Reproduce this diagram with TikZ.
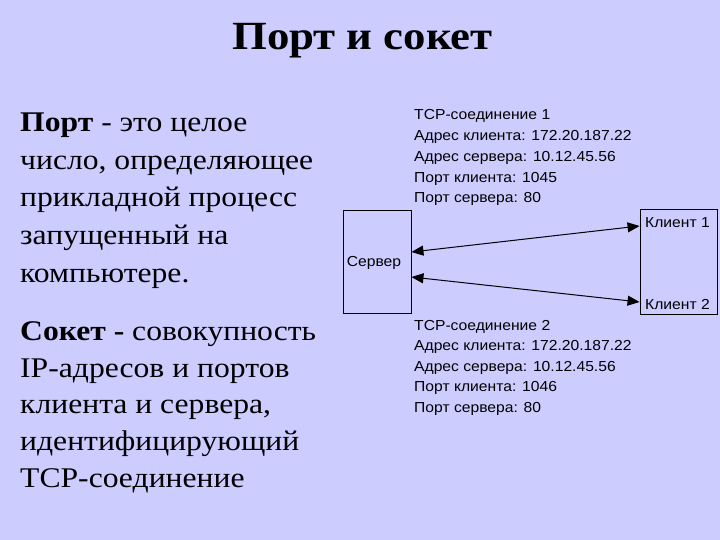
\documentclass[tikz,border=0pt]{standalone}
\usepackage{fontspec}
\setmainfont{Liberation Serif}[FakeStretch=1.11]
\newfontfamily\titlef{Liberation Serif}[FakeStretch=1.12]
\newfontfamily\arialf{Liberation Sans}[FakeStretch=1.08]
\usetikzlibrary{arrows.meta}
\definecolor{bgc}{HTML}{CCCCFF}
\tikzset{
  lefttext/.style={anchor=base west, inner sep=0pt, font=\fontsize{28.5}{30}\selectfont},
  difftext/.style={anchor=base west, inner sep=0pt, font=\arialf\fontsize{14.5}{16}\selectfont},
  box/.style={draw=black, line width=0.9pt, minimum width=#1, inner sep=0pt},
  conn/.style={line width=1pt, {Triangle[length=12pt,width=10pt]}-{Triangle[length=12pt,width=10pt]}}
}
\begin{document}
\begin{tikzpicture}[x=1pt,y=-1pt]
\fill[bgc] (0,0) rectangle (720,540);
\useasboundingbox (0,0) rectangle (720,540);
% title
\node[anchor=base, inner sep=0pt, font=\titlef\bfseries\fontsize{40}{42}\selectfont] (title) at (362.5,50) {Порт и сокет};
% left text
\node[lefttext] (l1) at (20,132) {\textbf{Порт} - это целое};
\node[lefttext] (l2) at (20,169.5) {число, определяющее};
\node[lefttext] (l3) at (20,207) {прикладной процесс};
\node[lefttext] (l4) at (20,244.5) {запущенный на};
\node[lefttext] (l5) at (20,282) {компьютере.};
\node[lefttext] (l6) at (20,340) {\textbf{Сокет -} совокупность};
\node[lefttext] (l7) at (20,377) {IP-адресов и портов};
\node[lefttext] (l8) at (20,413.5) {клиента и сервера,};
\node[lefttext] (l9) at (20,450) {идентифицирующий};
\node[lefttext] (l10) at (20,487) {TCP-соединение};
% boxes
\node[box=68pt, minimum height=103pt] (server) at (377,261.5) {};
\node[anchor=center, inner sep=0pt, font=\arialf\fontsize{14.5}{16}\selectfont] (stext) at (374,263) {Сервер};
\node[box=77pt, minimum height=105pt] (client) at (678.5,261.5) {};
\node[anchor=west, inner sep=0pt, font=\arialf\fontsize{14.5}{16}\selectfont] (k1) at (645,223) {Клиент 1};
\node[anchor=west, inner sep=0pt, font=\arialf\fontsize{14.5}{16}\selectfont] (k2) at (645,305) {Клиент 2};
% arrow endpoints
\coordinate (s1) at (server.east |- 0,252);
\coordinate (s2) at (server.east |- 0,277);
\coordinate (c1) at (client.west |- 0,226);
\coordinate (c2) at (client.west |- 0,302);
\draw[conn] (s1) -- (c1);
\draw[conn] (s2) -- (c2);
% connection 1
\node[difftext] (a1) at (414,120) {TCP-соединение 1};
\node[difftext] (a2) at (414,141) {Адрес клиента: 172.20.187.22};
\node[difftext] (a3) at (414,161.5) {Адрес сервера: 10.12.45.56};
\node[difftext] (a4) at (414,182.5) {Порт клиента: 1045};
\node[difftext] (a5) at (414,203) {Порт сервера: 80};
% connection 2
\node[difftext] (b1) at (414,330) {TCP-соединение 2};
\node[difftext] (b2) at (414,350.5) {Адрес клиента: 172.20.187.22};
\node[difftext] (b3) at (414,371) {Адрес сервера: 10.12.45.56};
\node[difftext] (b4) at (414,391.5) {Порт клиента: 1046};
\node[difftext] (b5) at (414,412.5) {Порт сервера: 80};
\end{tikzpicture}
\end{document}
